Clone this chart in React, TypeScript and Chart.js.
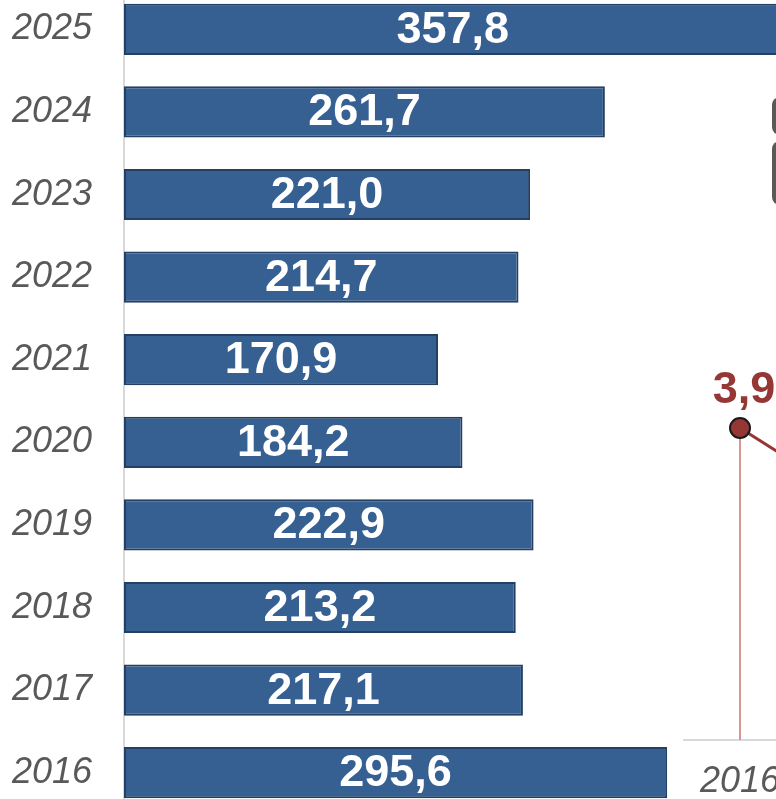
import React, { useEffect, useRef } from "react";
import { Chart, registerables } from "chart.js";

Chart.register(...registerables);

const years = ["2025", "2024", "2023", "2022", "2021", "2020", "2019", "2018", "2017", "2016"];
const values = [357.8, 261.7, 221.0, 214.7, 170.9, 184.2, 222.9, 213.2, 217.1, 295.6];

const lineYears = ["2016", "2017", "2018"];
const lineValues = [3.9, 3.0, 2.6];

const FONT = "'Liberation Sans', Arial, sans-serif";
const fmt = (v: number) => v.toFixed(1).replace(".", ",");

export default function App() {
  const barRef = useRef<HTMLCanvasElement | null>(null);
  const lineRef = useRef<HTMLCanvasElement | null>(null);

  useEffect(() => {
    const barLabels = {
      id: "barLabels",
      afterDatasetsDraw(chart: any) {
        const ctx = chart.ctx;
        const meta = chart.getDatasetMeta(0);
        ctx.save();
        ctx.fillStyle = "#ffffff";
        ctx.font = `bold 45px ${FONT}`;
        ctx.textAlign = "center";
        ctx.textBaseline = "middle";
        meta.data.forEach((el: any, i: number) => {
          const p = el.getProps(["x", "y", "base"], true);
          ctx.fillText(fmt(values[i]), (p.x + p.base) / 2, p.y + 1);
        });
        ctx.restore();
      },
    };

    const bar = new Chart(barRef.current!, {
      type: "bar",
      data: {
        labels: years,
        datasets: [
          {
            data: values,
            backgroundColor: "#376092",
            borderColor: "#243f62",
            borderWidth: 2,
            borderSkipped: false,
            barPercentage: 0.62,
            categoryPercentage: 1,
          },
        ],
      },
      options: {
        indexAxis: "y",
        animation: false,
        responsive: false,
        maintainAspectRatio: false,
        layout: { padding: 0 },
        plugins: { legend: { display: false }, tooltip: { enabled: false } },
        scales: {
          x: { display: false, min: 0, max: 400 },
          y: {
            afterFit(scale: any) {
              scale.width = 124;
              scale.paddingTop = 0;
              scale.paddingBottom = 0;
            },
            grid: { display: false, drawTicks: false },
            border: { display: true, color: "#d9d9d9", width: 2 },
            ticks: {
              padding: 32,
              color: "#595959",
              font: { family: FONT, size: 36, style: "italic" },
            },
          },
        },
      },
      plugins: [barLabels],
    });

    const lineDeco = {
      id: "lineDeco",
      beforeDatasetsDraw(chart: any) {
        const ctx = chart.ctx;
        const meta = chart.getDatasetMeta(0);
        const bottom = chart.chartArea.bottom;
        ctx.save();
        ctx.strokeStyle = "#d99694";
        ctx.lineWidth = 2;
        meta.data.forEach((el: any) => {
          ctx.beginPath();
          ctx.moveTo(el.x, el.y);
          ctx.lineTo(el.x, bottom);
          ctx.stroke();
        });
        // gray box fragment
        ctx.fillStyle = "#595959";
        ctx.beginPath();
        (ctx as any).roundRect(89, 97, 30, 38, 8);
        ctx.fill();
        ctx.beginPath();
        (ctx as any).roundRect(89, 141, 30, 64, 8);
        ctx.fill();
        ctx.restore();
      },
      afterDatasetsDraw(chart: any) {
        const ctx = chart.ctx;
        const meta = chart.getDatasetMeta(0);
        ctx.save();
        ctx.fillStyle = "#953735";
        ctx.font = `bold 45px ${FONT}`;
        ctx.textAlign = "center";
        ctx.textBaseline = "alphabetic";
        meta.data.forEach((el: any, i: number) => {
          ctx.fillText(fmt(lineValues[i]), el.x + 4, el.y - 25);
        });
        ctx.restore();
      },
    };

    const line = new Chart(lineRef.current!, {
      type: "line",
      data: {
        labels: lineYears,
        datasets: [
          {
            data: lineValues,
            borderColor: "#953735",
            borderWidth: 3,
            pointRadius: 10,
            pointBackgroundColor: "#953735",
            pointBorderColor: "#1a1a1a",
            pointBorderWidth: 2,
            tension: 0,
          },
        ],
      },
      options: {
        animation: false,
        responsive: false,
        maintainAspectRatio: false,
        layout: { autoPadding: false, padding: { top: 340, left: 0, right: 0, bottom: 0 } },
        plugins: { legend: { display: false }, tooltip: { enabled: false } },
        scales: {
          y: { display: false, min: 0, max: 5 },
          x: {
            offset: true,
            afterFit(scale: any) {
              scale.height = 59;
              scale.paddingLeft = 0;
              scale.paddingRight = 0;
            },
            grid: { display: false, drawTicks: false },
            border: { display: true, color: "#d9d9d9", width: 2 },
            ticks: {
              padding: 20,
              color: "#595959",
              font: { family: FONT, size: 36, style: "italic" },
            },
          },
        },
      },
      plugins: [lineDeco],
    });

    return () => {
      bar.destroy();
      line.destroy();
    };
  }, []);

  return (
    <div
      style={{
        position: "fixed",
        left: 0,
        top: 0,
        width: 776,
        height: 799,
        overflow: "hidden",
        background: "#ffffff",
      }}
    >
      <div style={{ position: "absolute", left: 0, top: -12, width: 859, height: 826 }}>
        <canvas ref={barRef} width={859} height={826} style={{ width: 859, height: 826 }} />
      </div>
      <div style={{ position: "absolute", left: 683, top: 0, width: 342, height: 799 }}>
        <canvas ref={lineRef} width={342} height={799} style={{ width: 342, height: 799 }} />
      </div>
    </div>
  );
}
